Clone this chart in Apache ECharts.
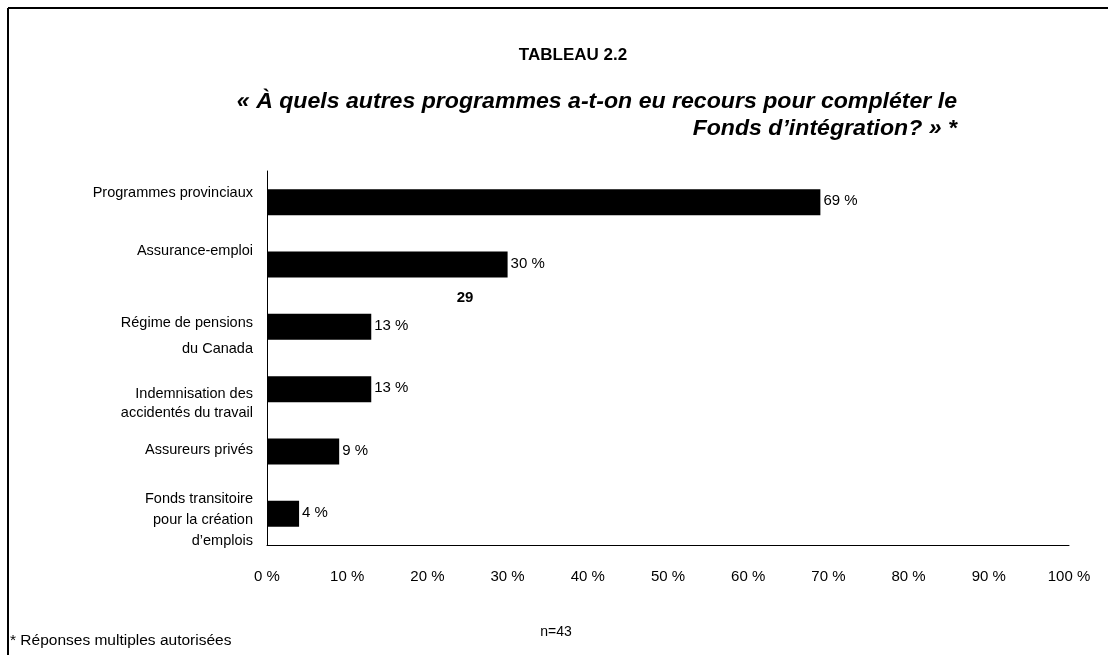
<!DOCTYPE html>
<html>
<head>
<meta charset="utf-8">
<script src="https://cdn.jsdelivr.net/npm/echarts@6/dist/echarts.min.js"></script>
<style>
  html, body { margin: 0; padding: 0; background: #fff; }
  #chart { width: 1108px; height: 655px; }
</style>
</head>
<body>
<div id="chart"></div>
<script>
// categories listed bottom -> top (yAxis category order)
const categories = [
  "Fonds transitoire\npour la création\nd’emplois",
  "Assureurs privés",
  "Indemnisation des\naccidentés du travail",
  "Régime de pensions\ndu Canada",
  "Assurance-emploi",
  "Programmes provinciaux"
];
const values = [4, 9, 13, 13, 30, 69];
const tickLabels = ["0 %", "10 %", "20 %", "30 %", "40 %", "50 %", "60 %", "70 %", "80 %", "90 %", "100 %"];

const font = "'Liberation Sans', Arial, sans-serif";
const myChart = echarts.init(document.getElementById('chart'));

// labels in the original sit a bit off their bars (px, + = down) and line spacing varies
const labelShift = [6, -2, 14, 9, -14, -9];
const labelLine = [21, 20, 19, 26, 20, 20];

const rich = {};
labelShift.forEach((s, i) => {
  const base = { fontSize: 14.5, fontFamily: font, color: '#000', lineHeight: labelLine[i] };
  rich['n' + i] = base;
  rich['b' + i] = Object.assign({}, base, { padding: [0, 0, Math.max(-s, 0) * 2, 0] });
  rich['s' + i] = { fontSize: 1, lineHeight: Math.max(s, 0) * 2 };
});

function labelFmt(value, idx) {
  const lines = value.split('\n');
  let out = lines.map((l, k) => {
    const tag = (k === lines.length - 1 && labelShift[idx] < 0) ? 'b' + idx : 'n' + idx;
    return '{' + tag + '|' + l + '}';
  }).join('\n');
  if (labelShift[idx] > 0) out = '{s' + idx + '| }\n' + out;
  return out;
}

const option = {
  animation: false,
  textStyle: { fontFamily: font },
  grid: { left: 267, right: 39, top: 171, bottom: 110, containLabel: false },
  xAxis: {
    type: 'value',
    min: 0,
    max: 100,
    interval: 10,
    axisLine: { show: true, lineStyle: { color: '#000', width: 1 } },
    axisTick: { show: false },
    splitLine: { show: false },
    axisLabel: {
      color: '#000',
      fontSize: 15,
      margin: 24,
      formatter: function (v) { return tickLabels[Math.round(v / 10)]; }
    }
  },
  yAxis: {
    type: 'category',
    data: categories,
    axisLine: { show: true, lineStyle: { color: '#000', width: 1 } },
    axisTick: { show: false },
    axisLabel: { color: '#000', fontSize: 14.5, margin: 14, align: 'right', formatter: labelFmt, rich: rich }
  },
  series: [{
    type: 'bar',
    data: values,
    barWidth: 26,
    itemStyle: { color: '#000' },
    label: {
      show: true,
      position: 'right',
      distance: 3,
      color: '#000',
      fontSize: 15,
      offset: [0, -1],
      formatter: '{c} %'
    }
  }],
  graphic: [
    { type: 'line', shape: { x1: 8, y1: 8, x2: 1108, y2: 8 }, style: { stroke: '#000', lineWidth: 2 } },
    { type: 'line', shape: { x1: 8, y1: 8, x2: 8, y2: 655 }, style: { stroke: '#000', lineWidth: 2 } },
    { type: 'text', x: 573, y: 55, style: { text: 'TABLEAU 2.2', font: 'bold 17px ' + font, fill: '#000', align: 'center', verticalAlign: 'middle' } },
    {
      type: 'text', x: 957, y: 102, scaleX: 1.05,
      style: { text: '« À quels autres programmes a-t-on eu recours pour compléter le', font: 'italic bold 22px ' + font, fill: '#000', align: 'right', verticalAlign: 'middle' }
    },
    {
      type: 'text', x: 957, y: 129, scaleX: 1.05,
      style: { text: 'Fonds d’intégration? » *', font: 'italic bold 22px ' + font, fill: '#000', align: 'right', verticalAlign: 'middle' }
    },
    { type: 'text', x: 465, y: 298, style: { text: '29', font: 'bold 15px ' + font, fill: '#000', align: 'center', verticalAlign: 'middle' } },
    { type: 'text', x: 10, y: 641, style: { text: '* Réponses multiples autorisées', font: '15.5px ' + font, fill: '#000', verticalAlign: 'middle' } },
    { type: 'text', x: 556, y: 632, style: { text: 'n=43', font: '14px ' + font, fill: '#000', align: 'center', verticalAlign: 'middle' } }
  ]
};

myChart.setOption(option);
</script>
</body>
</html>
